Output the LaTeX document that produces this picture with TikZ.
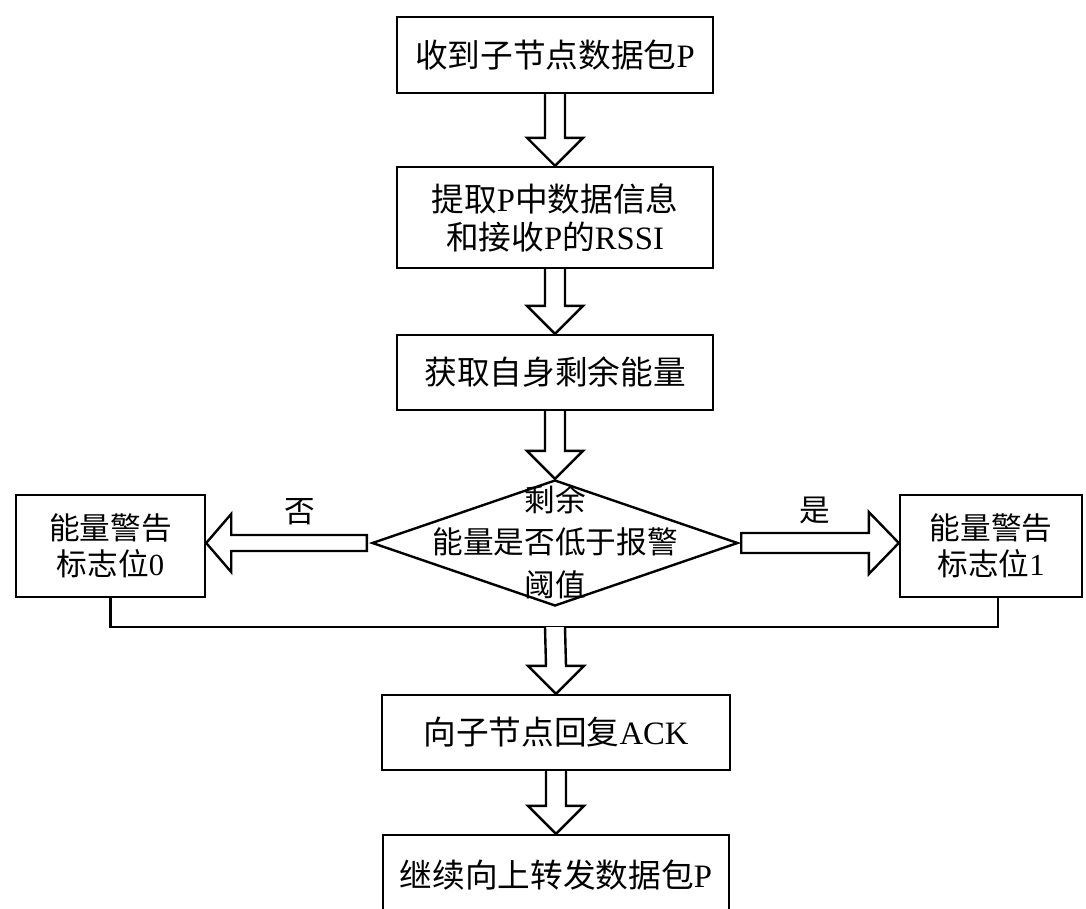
\documentclass[tikz,border=0pt]{standalone}
\usepackage{fontspec}
\setmainfont{Liberation Serif}
\newfontfamily\cjk{Noto Sans CJK SC}
\usetikzlibrary{shapes.geometric,calc}
\newcommand\barrowdown[2]{%
  \draw[barrow] ($(#1)+(-10,0)$) -- ($(#2)+(-10,-28)$) -- ($(#2)+(-28,-28)$) -- (#2)
    -- ($(#2)+(28,-28)$) -- ($(#2)+(10,-28)$) -- ($(#1)+(10,0)$);}
\begin{document}
\begin{tikzpicture}[x=0.75pt,y=-0.75pt,
  box/.style={draw,line width=1.8pt,rectangle,inner sep=0pt,align=center,
    font=\fontsize{24.5}{28.5}\selectfont},
  barrow/.style={draw,line width=1.8pt,fill=white,line join=miter},
  conn/.style={draw,line width=1.8pt},
  lbl/.style={inner sep=0pt,font=\fontsize{23}{27}\selectfont\cjk}]
\useasboundingbox (0,0) rectangle (1086,908);
\fill[white] (0,0) rectangle (1086,908);

\node[box,minimum width=237pt,minimum height=57pt] (b1) at (555,55) {{\cjk 收到子节点数据包}P};
\node[box,minimum width=237pt,minimum height=75.75pt] (b2) at (555,217.5)
  {{\cjk 提取}P{\cjk 中数据信息}\\{\cjk 和接收}P{\cjk 的}RSSI};
\node[box,minimum width=237pt,minimum height=56.25pt] (b3) at (555,372.5) {\cjk 获取自身剩余能量};
\node[draw,diamond,line width=1.8pt,minimum width=274.5pt,minimum height=94.5pt,inner sep=0pt] (d) at (555,543) {};
\node[align=center,inner sep=0pt,font=\fontsize{23}{32}\selectfont\cjk] (dt) at (555,542) {剩余\\能量是否低于报警\\阈值};
\node[box,minimum width=141.75pt,minimum height=76.5pt,font=\fontsize{23}{27}\selectfont] (L) at (110.5,546) {{\cjk 能量警告}\\{\cjk 标志位}0};
\node[box,minimum width=136.5pt,minimum height=76.5pt,font=\fontsize{23}{27}\selectfont] (R) at (991,546) {{\cjk 能量警告}\\{\cjk 标志位}1};
\node[box,minimum width=261pt,minimum height=56.25pt] (b4) at (556,732.5) {{\cjk 向子节点回复}ACK};
\node[box,minimum width=259.5pt,minimum height=60pt] (b5) at (556,875) {{\cjk 继续向上转发数据包}P};

\barrowdown{b1.south}{b2.north}
\barrowdown{b2.south}{b3.north}
\barrowdown{b3.south}{d.north}

% left (no) arrow
\coordinate (lt) at (L.east |- d.west);
\draw[barrow] ($(d.west)+(-4,-8)$) -- ($(lt)+(25,-8)$) -- ($(lt)+(25,-29)$) -- (lt)
  -- ($(lt)+(25,29)$) -- ($(lt)+(25,8)$) -- ($(d.west)+(-4,8)$) -- cycle;
% right (yes) arrow
\coordinate (rt) at (R.west |- d.east);
\draw[barrow] ($(d.east)+(2,-10)$) -- ($(rt)+(-30,-10)$) -- ($(rt)+(-30,-31)$) -- (rt)
  -- ($(rt)+(-30,31)$) -- ($(rt)+(-30,10)$) -- ($(d.east)+(2,10)$) -- cycle;
\node[lbl] (no) at (300,512) {否};
\node[lbl] (yes) at (815,510) {是};

\coordinate (join) at (555,627);
\draw[conn] (L.south) |- (join) -| ($(R.south)+(7,0)$);
\barrowdown{join}{b4.north}
\barrowdown{b4.south}{b5.north}
\end{tikzpicture}
\end{document}
